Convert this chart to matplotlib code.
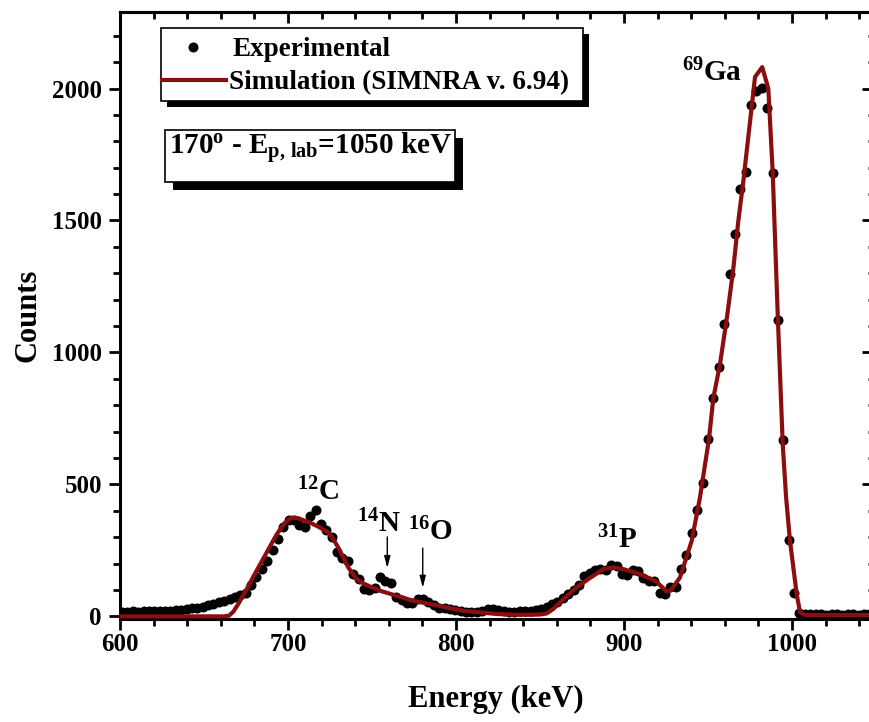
import matplotlib
matplotlib.use("Agg")
import matplotlib.pyplot as plt
from matplotlib.patches import Rectangle
from matplotlib.lines import Line2D
from matplotlib.ticker import MultipleLocator

# Experimental RBS/EBS spectrum (channel energy in keV, counts)
exp_energy = [
    601.2, 604.4, 607.6, 610.8, 614.0, 617.2, 620.4, 623.6, 626.8, 630.0,
    633.2, 636.4, 639.6, 642.8, 646.0, 649.2, 652.4, 655.6, 658.8, 662.0,
    665.2, 668.4, 671.6, 674.8, 678.0, 681.2, 684.4, 687.6, 690.8, 694.0,
    697.2, 700.4, 703.6, 706.8, 710.0, 713.2, 716.4, 719.6, 722.8, 726.0,
    729.2, 732.4, 735.6, 738.8, 742.0, 745.2, 748.4, 751.6, 754.8, 758.0,
    761.2, 764.4, 767.6, 770.8, 774.0, 777.2, 780.4, 783.6, 786.8, 790.0,
    793.2, 796.4, 799.6, 802.8, 806.0, 809.2, 812.4, 815.6, 818.8, 822.0,
    825.2, 828.4, 831.6, 834.8, 838.0, 841.2, 844.4, 847.6, 850.8, 854.0,
    857.2, 860.4, 863.6, 866.8, 870.0, 873.2, 876.4, 879.6, 882.8, 886.0,
    889.2, 892.4, 895.6, 898.8, 902.0, 905.2, 908.4, 911.6, 914.8, 918.0,
    921.2, 924.4, 927.6, 930.8, 934.0, 937.2, 940.4, 943.6, 946.8, 950.0,
    953.2, 956.4, 959.6, 962.8, 966.0, 969.2, 972.4, 975.6, 978.8, 982.0,
    985.2, 988.4, 991.6, 994.8, 998.0, 1001.2, 1004.4, 1007.6, 1010.8, 1014.0,
    1017.2, 1020.4, 1023.6, 1026.8, 1030.0, 1033.2, 1036.4, 1039.6, 1042.8, 1046.0,
    1049.2,
]
exp_counts = [
    18, 17, 19, 18, 20, 19, 21, 20, 22, 22,
    24, 24, 27, 30, 32, 36, 42, 48, 54, 58,
    64, 74, 80, 90, 120, 150, 178, 210, 250, 295,
    340, 364, 364, 347, 339, 381, 402, 350, 328, 300,
    245, 223, 210, 160, 142, 103, 100, 108, 150, 133,
    128, 72, 63, 52, 50, 64, 65, 56, 44, 33,
    30, 28, 24, 21, 18, 15, 18, 22, 27, 27,
    23, 21, 18, 18, 19, 20, 21, 24, 28, 36,
    45, 55, 70, 85, 100, 120, 154, 165, 175, 178,
    175, 195, 189, 162, 155, 175, 172, 147, 135, 135,
    88, 83, 110, 112, 179, 233, 314, 403, 507, 673,
    828, 945, 1108, 1297, 1448, 1618, 1682, 1937, 1990, 2003,
    1928, 1679, 1124, 668, 288, 87, 12, 9, 8, 8,
    8, 7, 8, 8, 7, 8, 8, 7, 8, 8,
    7,
]

# SIMNRA simulated spectrum
sim_energy = [
    600.0, 662.0, 665.0, 667.5, 670.4, 675.4, 681.3, 687.3, 693.3, 698.2,
    702.2, 706.1, 713.1, 718.0, 724.0, 727.0, 729.9, 733.0, 735.9, 740.8,
    744.8, 747.8, 754.8, 764.7, 774.6, 784.5, 794.5, 804.3, 814.3, 824.2,
    834.1, 844.0, 850.0, 854.0, 857.9, 863.9, 871.8, 880.1, 887.7, 893.6,
    899.6, 909.5, 918.5, 922.0, 925.4, 928.0, 933.3, 940.3, 945.2, 950.6,
    953.2, 957.1, 961.5, 965.1, 968.0, 971.0, 975.0, 978.0, 982.3, 985.9,
    988.5, 991.5, 994.5, 996.5, 998.8, 1002.8, 1004.8, 1008.0, 1050.0,
]
sim_counts = [
    0, 0, 3, 18, 47, 103, 173, 242, 311, 355,
    374, 372, 355, 340, 318, 292, 261, 222, 185, 141,
    125, 116, 97, 78, 59, 47, 34, 21, 15, 9,
    6, 6, 7, 11, 28, 65, 110, 147, 179, 185,
    179, 160, 135, 115, 94, 100, 147, 286, 450, 673,
    828, 954, 1143, 1319, 1496, 1647, 1874, 2044, 2081, 2000,
    1685, 1143, 650, 450, 286, 84, 15, 5, 5,
]

# Peak identifications: (label, x, y) in data coordinates
peak_labels = [
    (r"$^{12}$C", 705.2, 438),
    (r"$^{14}$N", 740.9, 317),
    (r"$^{16}$O", 771.3, 290),
    (r"$^{31}$P", 883.9, 259),
    (r"$^{69}$Ga", 934.3, 2026),
]
# Arrows marking N and O surface energies: (x, y_start, y_end)
peak_arrows = [(759.1, 301, 183), (780.2, 259, 108)]

SIM_COLOR = "#8b0e0e"

plt.rcParams.update({
    "font.family": "Liberation Serif",
    "font.weight": "bold",
    "mathtext.fontset": "custom",
    "mathtext.rm": "Liberation Serif:bold",
    "mathtext.bf": "Liberation Serif:bold",
    "mathtext.it": "Liberation Serif:bold:italic",
    "mathtext.default": "rm",
})

W, H = 869, 722
fig = plt.figure(figsize=(W / 100, H / 100), dpi=100)

# axes in pixel terms: left 120, right 876 (beyond the canvas), top 12, bottom 619
ax = fig.add_axes([120 / W, 1 - 619 / H, 756 / W, 607 / H])

ax.plot(exp_energy, exp_counts, "o", color="black", ms=7.2, mew=0, zorder=3)
ax.plot(sim_energy, sim_counts, "-", color=SIM_COLOR, lw=3.0, zorder=4,
        solid_joinstyle="round")

ax.set_xlim(600, 1050)
ax.set_ylim(-10, 2290)

ax.xaxis.set_major_locator(MultipleLocator(100))
ax.xaxis.set_minor_locator(MultipleLocator(20))
ax.yaxis.set_major_locator(MultipleLocator(500))
ax.yaxis.set_minor_locator(MultipleLocator(100))

for sp in ax.spines.values():
    sp.set_linewidth(2.2)

ax.tick_params(which="both", direction="out", top=False, right=False,
               width=2.0, labelsize=18)
ax.tick_params(which="major", length=8)
ax.tick_params(which="minor", length=5)
ax.tick_params(axis="x", pad=2)
ax.tick_params(axis="y", pad=5)
for lab in ax.get_xticklabels() + ax.get_yticklabels():
    lab.set_fontweight("bold")

# inward ticks on the top and right edges
ax_top = ax.secondary_xaxis("top")
ax_top.xaxis.set_major_locator(MultipleLocator(100))
ax_top.xaxis.set_minor_locator(MultipleLocator(20))
ax_top.tick_params(which="both", direction="in", width=2.0, labeltop=False)
ax_top.tick_params(which="major", length=8)
ax_top.tick_params(which="minor", length=5)
ax_top.spines["top"].set_linewidth(2.2)
ax_right = ax.secondary_yaxis("right")
ax_right.yaxis.set_major_locator(MultipleLocator(500))
ax_right.yaxis.set_minor_locator(MultipleLocator(100))
ax_right.tick_params(which="both", direction="in", width=2.0, labelright=False)
ax_right.tick_params(which="major", length=10)
ax_right.tick_params(which="minor", length=6)

ax.set_xlabel("Energy (keV)", fontsize=22, fontweight="bold")
ax.set_ylabel("Counts", fontsize=22, fontweight="bold")
ax.xaxis.set_label_coords(0.497, -0.108)
ax.yaxis.set_label_coords(-0.102, 0.5)

for text, x, y in peak_labels:
    ax.text(x, y, text, fontsize=21, ha="left", va="baseline", zorder=5)
for x, y0, y1 in peak_arrows:
    ax.annotate("", xy=(x, y1), xytext=(x, y0),
                arrowprops=dict(arrowstyle="-|>,head_length=0.7,head_width=0.18",
                                color="black", lw=1.0, shrinkA=0, shrinkB=0))


def px(x, y):
    """Canvas pixel (from top-left) to figure fraction."""
    return x / W, 1 - y / H


def boxed(x0, y0, x1, y1, shadow):
    fx0, fy1 = px(x0, y0)
    fx1, fy0 = px(x1, y1)
    dx, dy = shadow / W, shadow / H
    fig.add_artist(Rectangle((fx0 + dx, fy0 - dy), fx1 - fx0, fy1 - fy0,
                             transform=fig.transFigure, facecolor="black",
                             edgecolor="black", lw=0, zorder=10))
    fig.add_artist(Rectangle((fx0, fy0), fx1 - fx0, fy1 - fy0,
                             transform=fig.transFigure, facecolor="white",
                             edgecolor="black", lw=1.2, zorder=11))


# legend
boxed(161, 28, 583, 101, 6)
fig.add_artist(Line2D([px(193, 0)[0]], [px(0, 47)[1]], marker="o", ms=7.2,
                      mew=0, color="black", linestyle="none",
                      transform=fig.transFigure, zorder=12))
fig.add_artist(Line2D([px(162, 0)[0], px(226, 0)[0]], [px(0, 80)[1]] * 2,
                      color=SIM_COLOR, lw=3.0, transform=fig.transFigure,
                      zorder=12))
fig.text(*px(233, 47), "Experimental", fontsize=19.5, ha="left",
         va="center_baseline", zorder=12)
fig.text(*px(229, 80), "Simulation (SIMNRA v. 6.94)", fontsize=19.5,
         ha="left", va="center_baseline", zorder=12)

# measurement conditions
boxed(165, 130, 455, 182, 8)
fig.text(*px(310, 155), r"170$^{\mathrm{o}}$ - E$_{\mathrm{p,\,lab}}$=1050 keV",
         fontsize=21, ha="center", va="baseline", zorder=12)

fig.savefig("out.png", dpi=100)
